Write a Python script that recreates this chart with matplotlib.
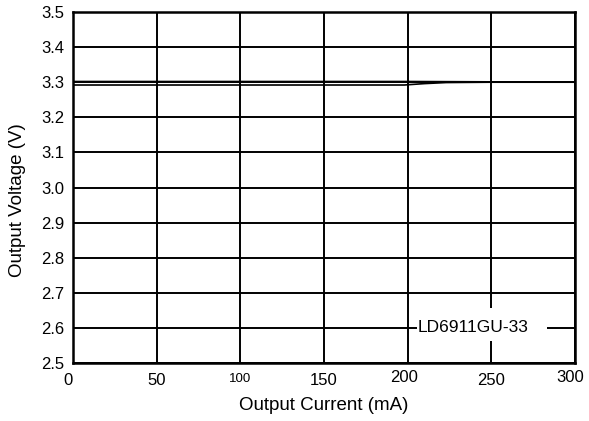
import matplotlib
matplotlib.use("Agg")
import matplotlib.pyplot as plt
from matplotlib.patches import Rectangle
import matplotlib.transforms as mtrans

plt.rcParams['font.family'] = ['Liberation Sans', 'DejaVu Sans']

# data
current_upper = [0, 50, 100, 150, 200, 250, 300]
voltage_upper = [3.302, 3.302, 3.302, 3.302, 3.302, 3.301, 3.301]
current_lower = [0, 50, 100, 150, 198, 210, 223, 250, 300]
voltage_lower = [3.292, 3.292, 3.292, 3.292, 3.292, 3.296, 3.299, 3.300, 3.300]
x_ticks = [0, 50, 100, 150, 200, 250, 300]
y_ticks = [2.5, 2.6, 2.7, 2.8, 2.9, 3.0, 3.1, 3.2, 3.3, 3.4, 3.5]
label_text = "LD6911GU-33"

fig = plt.figure(figsize=(5.89, 4.21), dpi=100)
ax = fig.add_axes([73/589, 1 - 363/421, (575-73)/589, (363-12)/421])

ax.plot(current_upper, voltage_upper, color='black', lw=1.2)
ax.plot(current_lower, voltage_lower, color='black', lw=1.2)

ax.set_xlim(0, 300)
ax.set_ylim(2.5, 3.5)
ax.set_xticks(x_ticks)
ax.set_yticks(y_ticks)
ax.set_xticklabels([str(v) for v in x_ticks])
ax.set_yticklabels([f"{v:.1f}" for v in y_ticks])
ax.tick_params(length=0)
ax.tick_params(axis='x', pad=7)
ax.tick_params(axis='y', pad=6)

# small per-label offsets (pixels) as in the reference
x_offsets = {"0": (-5, 0), "200": (-4, 3), "300": (-5, 3)}
for lbl in ax.get_xticklabels():
    t = lbl.get_text()
    lbl.set_fontsize(9.5 if t == "100" else 12)
    if t in x_offsets:
        dx, dy = x_offsets[t]
        lbl.set_transform(lbl.get_transform() +
                          mtrans.ScaledTranslation(dx/100, dy/100, fig.dpi_scale_trans))
for lbl in ax.get_yticklabels():
    lbl.set_fontsize(12)

ax.grid(True, color='black', lw=1.4)
ax.set_axisbelow(True)
for s in ax.spines.values():
    s.set_linewidth(1.8)
    s.set_color('black')

ax.set_xlabel("Output Current (mA)", fontsize=13.5, labelpad=7)
ax.set_ylabel("Output Voltage (V)", fontsize=13.5)
ax.yaxis.set_label_coords(-(73-26)/502, 1 - (200-12)/351)

ax.add_patch(Rectangle((205.6, 2.563), 77.7, 0.094, facecolor='white',
                       edgecolor='none', zorder=4))
ax.text(206.2, 2.6, label_text, fontsize=12.5, ha='left', va='center', zorder=5)

fig.savefig("out.png", dpi=100)
